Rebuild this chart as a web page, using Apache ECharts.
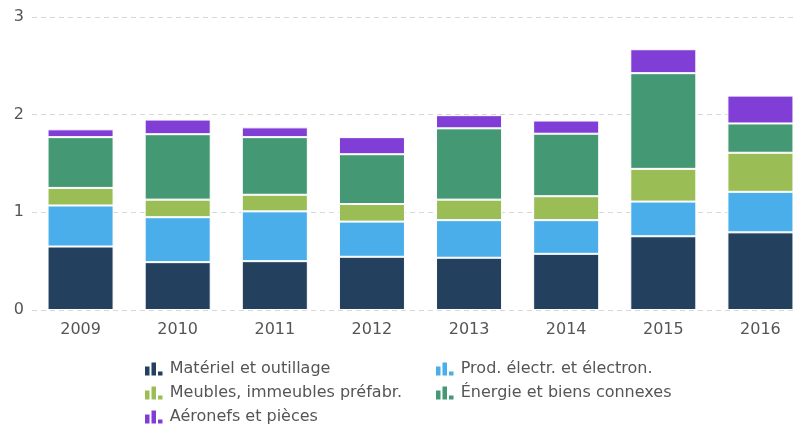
<!DOCTYPE html>
<html>
<head>
<meta charset="utf-8">
<script src="https://cdn.jsdelivr.net/npm/echarts@6/dist/echarts.min.js"></script>
<style>
  html, body { margin: 0; padding: 0; background: #fff; }
  #chart { width: 795px; height: 429px; }
</style>
</head>
<body>
<div id="chart"></div>
<script>
// years on the x axis
const years = ["2009", "2010", "2011", "2012", "2013", "2014", "2015", "2016"];

// stacked series, bottom to top
const materiel = [0.65, 0.49, 0.50, 0.545, 0.535, 0.575, 0.755, 0.795];
const electr = [0.42, 0.46, 0.51, 0.36, 0.385, 0.345, 0.355, 0.415];
const meubles = [0.18, 0.18, 0.17, 0.18, 0.21, 0.245, 0.335, 0.40];
const energie = [0.52, 0.67, 0.59, 0.51, 0.73, 0.64, 0.98, 0.30];
const aeronefs = [0.08, 0.15, 0.10, 0.175, 0.135, 0.135, 0.245, 0.285];

const names = [
  "Matériel et outillage",
  "Prod. électr. et électron.",
  "Meubles, immeubles préfabr.",
  "Énergie et biens connexes",
  "Aéronefs et pièces"
];
const colors = ["#23405f", "#4aaeea", "#9abd55", "#449873", "#803ed6"];
const values = [materiel, electr, meubles, energie, aeronefs];

// little bar-chart glyph used in the legend
const barIcon = "path://M0,4L4.5,4L4.5,13L0,13Z M6.5,0L11,0L11,13L6.5,13Z M13,9L17.5,9L17.5,13L13,13Z";

var myChart = echarts.init(document.getElementById("chart"));

const legendText = { color: "#555", fontSize: 16, fontFamily: "DejaVu Sans", lineHeight: 16, padding: [0, 0, 0, 2] };

myChart.setOption({
  animation: false,
  textStyle: { fontFamily: "DejaVu Sans" },
  grid: { left: 32, top: 17, width: 777, height: 293, outerBoundsMode: "none" },
  legend: [
    {
      data: [names[0], names[2], names[4]],
      orient: "vertical",
      left: 140, top: 356, height: 90,
      icon: barIcon, itemWidth: 18, itemHeight: 13, itemGap: 8,
      itemStyle: { borderWidth: 0 },
      textStyle: legendText
    },
    {
      data: [names[1], names[3]],
      orient: "vertical",
      left: 431, top: 356, height: 90,
      icon: barIcon, itemWidth: 18, itemHeight: 13, itemGap: 8,
      itemStyle: { borderWidth: 0 },
      textStyle: legendText
    }
  ],
  xAxis: {
    type: "category",
    data: years,
    axisLine: { show: false },
    axisTick: { show: false },
    axisLabel: { color: "#555", fontSize: 16, margin: 12 }
  },
  yAxis: {
    type: "value",
    min: 0, max: 3, interval: 1,
    axisLabel: { color: "#555", fontSize: 16, margin: 8 },
    splitLine: { lineStyle: { color: "#d8d8d8", type: [5, 4] } }
  },
  series: values.map((v, i) => ({
    name: names[i],
    type: "bar",
    stack: "total",
    barWidth: "68%",
    data: v,
    itemStyle: { color: colors[i], borderColor: "#fff", borderWidth: 1 }
  }))
});
</script>
</body>
</html>
